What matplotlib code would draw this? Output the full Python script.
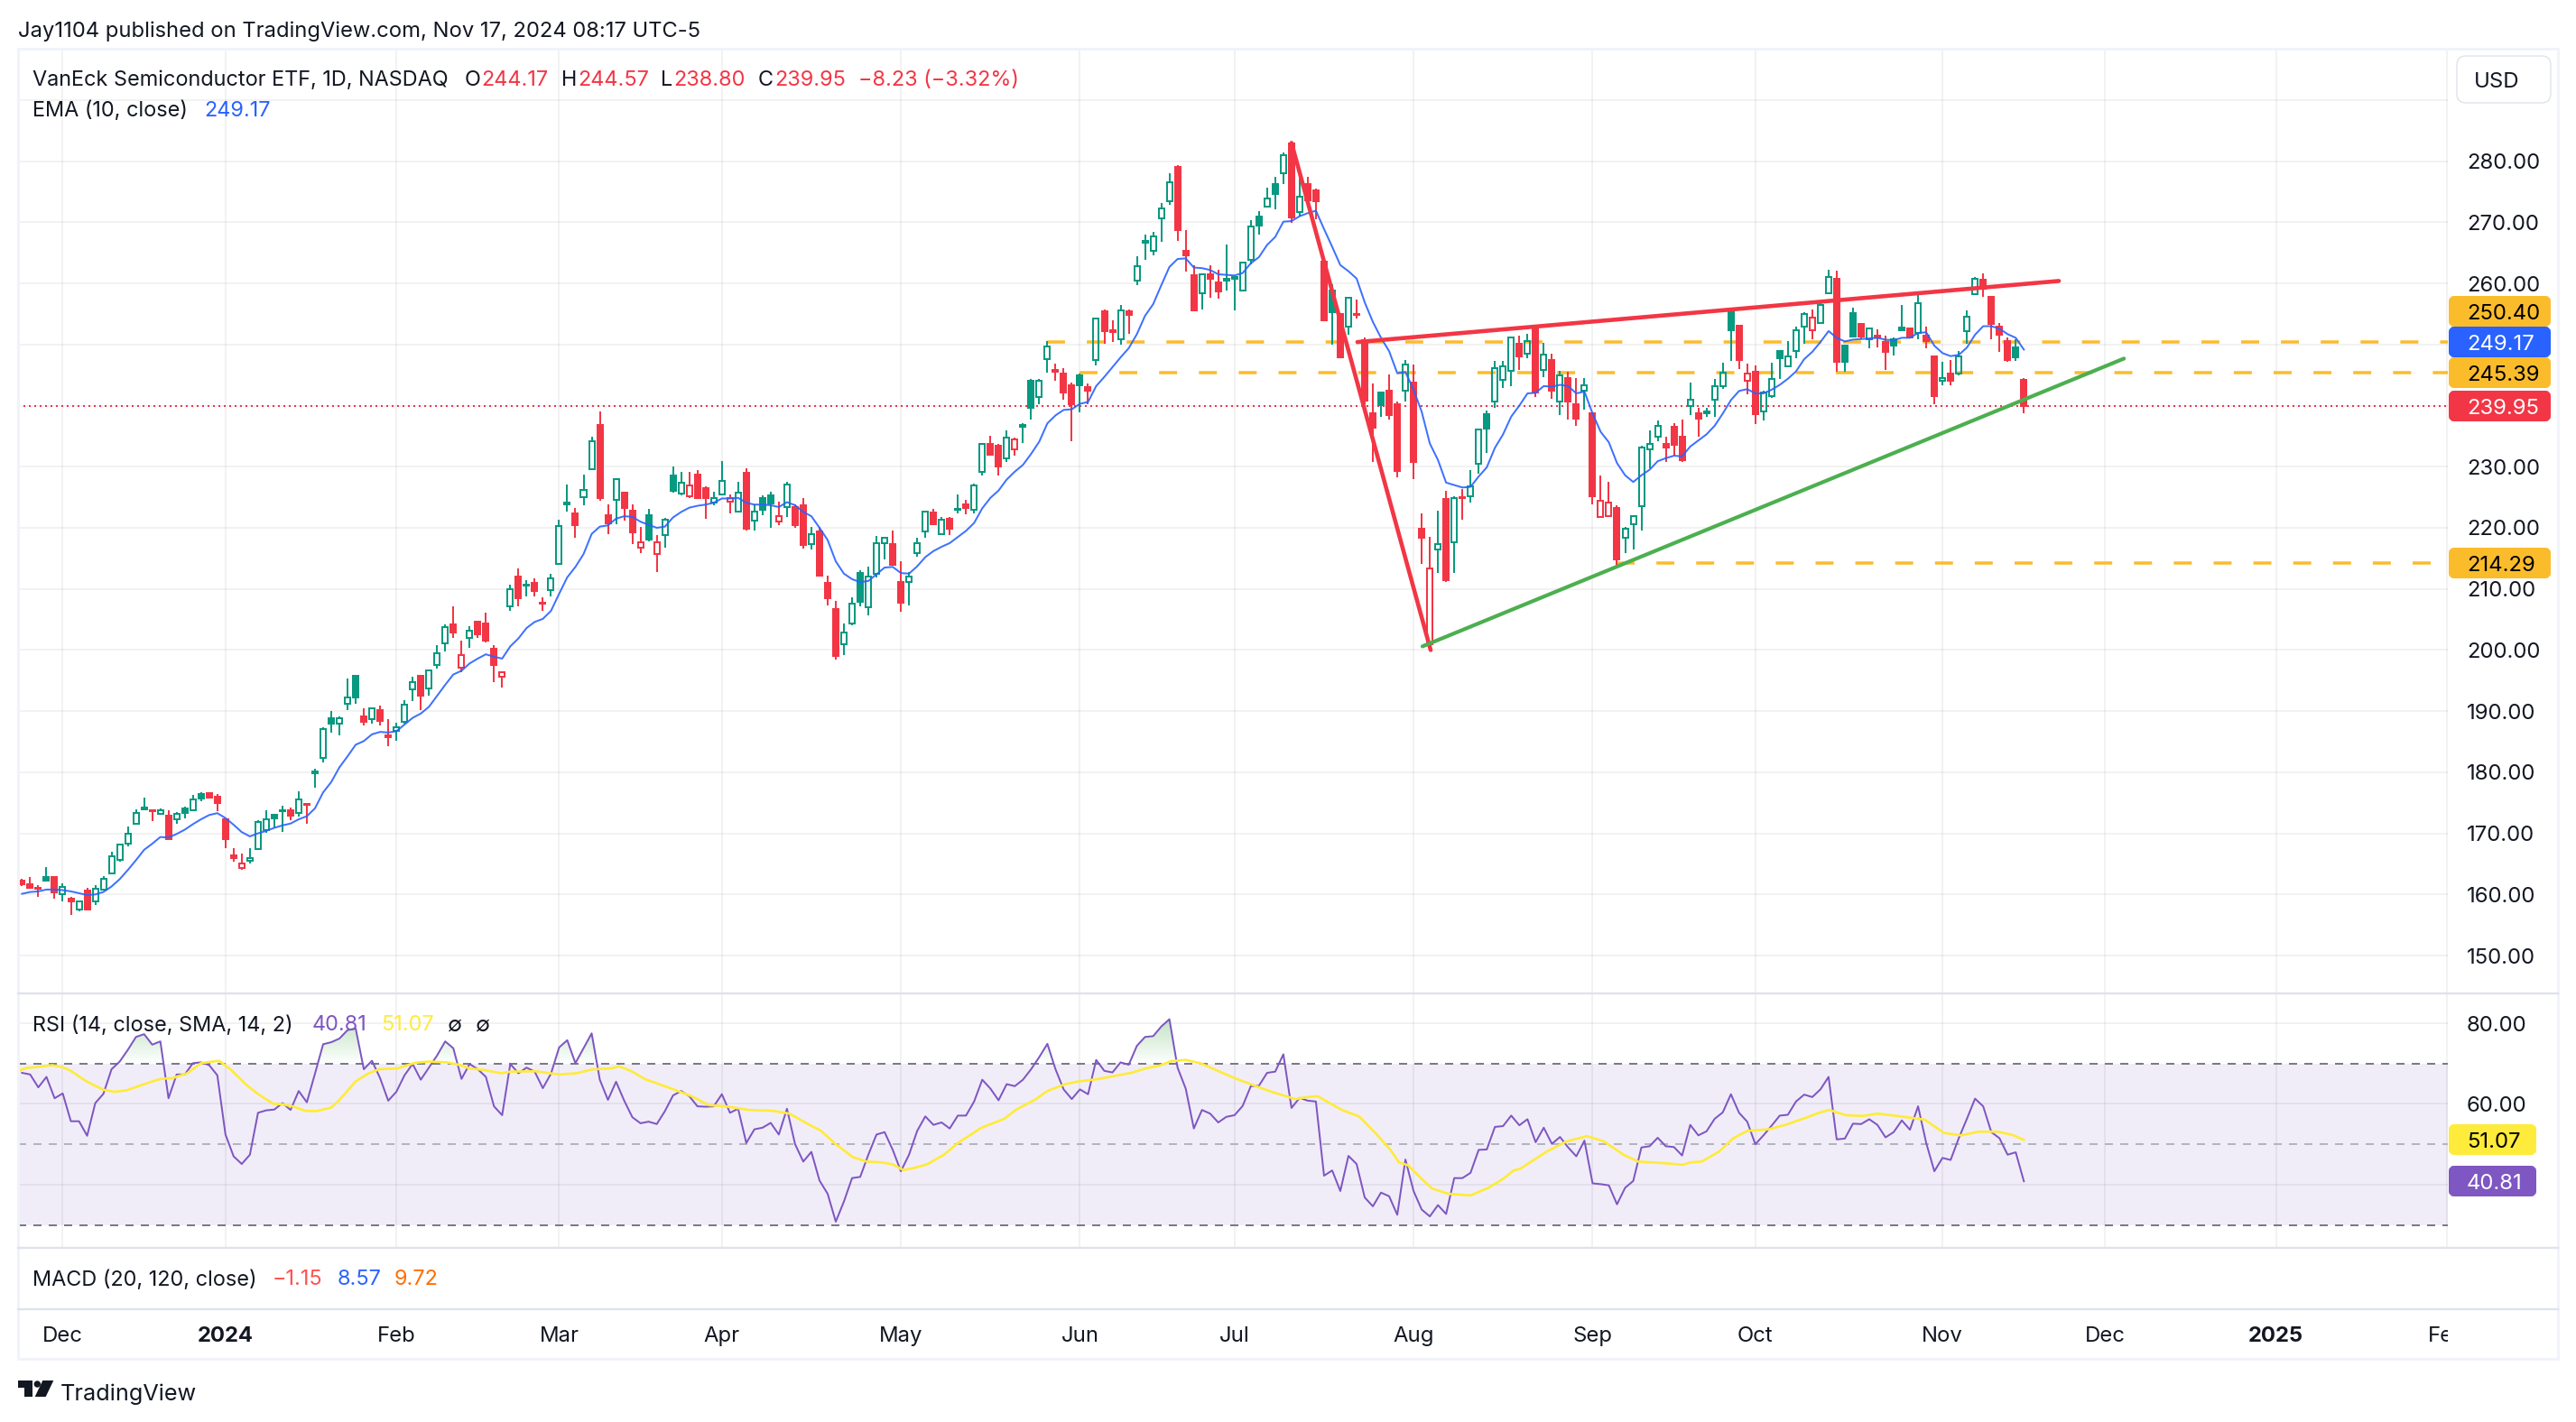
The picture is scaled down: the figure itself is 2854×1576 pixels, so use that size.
import numpy as np
import matplotlib
matplotlib.use("Agg")
import matplotlib.pyplot as plt
from matplotlib.patches import FancyBboxPatch, Polygon, Circle, Rectangle
from matplotlib.path import Path

plt.rcParams['font.family'] = ['Inter', 'DejaVu Sans']

# first candle sits five sessions before Dec 1 2023 (bar 0)
first_bar = -5

opens = [162.3,161.7,161.1,162.8,162.8,160.0,159.3,157.5,160.7,158.8,
 160.8,163.5,165.6,168.3,171.6,174.2,173.8,173.2,172.9,172.3,
 174.0,173.8,176.4,176.6,176.0,172.3,166.4,164.3,165.5,167.4,
 170.6,173.0,173.6,173.8,173.3,174.8,179.8,182.3,188.8,188.0,
 191.2,195.8,189.1,188.7,190.1,186.0,186.8,188.2,193.6,195.8,
 193.7,197.5,201.1,204.2,197.1,202.0,204.6,204.3,200.2,195.7,
 207.1,212.0,210.5,211.0,207.7,209.8,214.1,223.9,222.4,225.0,
 229.6,236.8,222.1,224.6,225.8,222.8,216.8,222.1,215.7,218.8,
 228.6,225.6,225.1,228.7,226.5,224.2,225.5,224.3,222.7,229.0,
 221.2,224.8,225.3,221.0,223.4,223.4,223.7,217.3,219.4,211.0,
 206.7,201.0,204.4,212.6,207.0,212.4,217.5,217.3,211.1,211.2,
 215.9,219.4,222.5,218.9,221.5,222.9,223.9,222.9,229.1,233.7,
 233.5,231.3,232.8,236.5,244.0,241.4,247.6,245.9,245.3,243.3,
 245.0,243.1,247.4,255.4,252.3,250.9,255.4,260.4,267.0,265.3,
 270.6,273.4,279.0,265.4,261.3,258.4,261.5,260.2,260.5,260.8,
 258.9,263.9,271.0,272.6,276.2,278.0,282.9,271.7,276.2,275.2,
 263.6,258.9,255.0,252.9,255.0,250.7,238.8,242.1,242.4,240.2,
 242.4,243.8,219.9,201.0,216.5,224.7,217.6,225.0,225.2,230.5,
 238.6,240.7,244.2,245.7,250.1,248.5,252.5,245.9,247.5,240.7,
 244.5,240.3,242.4,238.7,221.7,221.9,223.2,218.4,220.6,223.6,
 232.8,234.9,233.7,236.5,234.9,239.95,238.7,238.8,240.9,243.2,
 255.4,253.1,244.0,245.5,239.0,241.5,249.0,246.4,249.0,252.9,
 252.4,253.5,258.4,260.8,249.8,255.1,253.3,250.9,251.5,250.4,
 250.8,252.8,252.6,251.9,251.5,248.1,244.0,245.2,245.2,252.2,
 258.2,260.6,257.8,253.0,250.5,249.5,244.17]

highs = [162.5,162.8,161.5,164.4,162.8,161.8,159.6,159.0,161.1,161.5,
 163.0,167.0,168.1,171.1,173.9,175.9,173.9,174.0,173.8,173.5,
 174.3,176.3,176.7,176.7,176.4,172.3,167.6,166.7,167.6,172.1,
 173.8,173.2,174.5,174.2,176.9,175.0,180.6,187.3,190.0,189.1,
 195.4,195.9,190.5,190.4,190.9,188.7,188.1,191.8,195.7,195.9,
 196.8,200.8,204.2,207.2,201.5,203.9,204.8,206.1,200.8,196.5,
 210.7,213.4,211.5,211.7,208.7,212.5,221.3,227.1,223.2,228.7,
 234.9,239.0,223.8,227.9,225.8,223.9,220.2,223.1,218.8,221.6,
 230.0,229.1,229.1,229.4,226.8,225.9,230.9,225.4,227.5,229.7,
 223.9,225.3,225.9,224.3,227.5,223.8,224.9,220.2,220.1,212.2,
 208.0,204.3,208.6,213.1,213.6,218.7,218.5,219.6,214.5,212.7,
 218.3,222.6,223.1,221.7,221.7,225.5,224.6,227.2,233.8,235.0,
 233.7,235.9,234.8,237.1,244.4,244.3,250.6,246.8,246.1,243.8,
 245.3,243.6,254.3,255.8,253.9,256.5,255.8,264.4,268.0,268.4,
 273.1,278.1,279.4,268.8,262.9,261.7,262.9,262.3,266.3,261.0,
 263.4,270.3,271.9,275.6,277.4,281.5,282.9,278.6,277.4,275.5,
 263.6,259.8,255.0,257.8,257.3,251.2,243.6,242.3,245.1,240.7,
 247.5,246.7,222.3,218.5,222.8,226.0,225.2,226.4,229.4,236.2,
 239.2,247.3,247.3,251.3,251.5,251.7,252.7,250.3,248.5,245.7,
 245.6,244.5,244.5,238.7,228.6,227.6,223.7,220.2,222.1,233.5,
 235.9,237.6,234.9,237.1,237.7,243.8,239.6,239.7,244.4,247.0,
 255.9,253.1,246.8,246.6,242.4,247.0,249.0,250.5,253.0,255.3,
 255.7,257.1,262.2,262.1,249.8,256.0,253.5,252.8,252.5,251.5,
 251.1,256.4,252.7,258.2,252.9,248.1,247.2,247.4,248.9,255.6,
 261.0,261.7,257.9,253.5,251.1,250.8,244.57]

lows = [161.4,160.9,159.6,162.2,159.3,158.9,156.7,157.2,157.5,158.3,
 160.6,163.4,165.4,167.8,171.5,173.9,172.0,173.0,169.0,171.6,
 172.5,173.7,175.3,175.7,173.7,167.6,165.4,164.1,165.1,167.4,
 170.1,171.0,170.3,172.2,172.8,171.6,177.5,181.6,186.5,186.1,
 190.1,191.2,187.7,187.9,187.7,184.2,185.1,188.0,191.6,190.2,
 192.5,196.9,199.8,202.0,196.3,200.4,202.0,201.3,194.7,193.8,
 206.4,207.1,208.8,208.8,206.4,208.8,214.0,222.7,218.3,223.7,
 229.5,224.4,219.0,220.6,221.2,217.4,215.9,217.8,212.8,216.8,
 225.8,225.3,224.9,224.8,221.5,223.7,225.4,222.4,222.6,219.6,
 219.6,222.1,220.0,220.5,221.7,220.0,216.6,216.5,212.1,207.3,
 198.5,199.2,204.0,207.1,205.7,211.9,214.8,214.0,206.2,207.3,
 215.2,218.3,220.6,218.8,218.8,222.4,222.2,222.3,228.5,232.0,
 228.6,230.8,231.8,233.9,237.7,240.3,245.4,244.1,241.0,234.2,
 238.9,240.2,246.6,250.1,250.4,250.0,251.7,259.7,263.8,264.6,
 266.8,272.8,266.9,262.0,255.6,255.7,257.6,257.5,258.8,255.6,
 258.7,263.1,268.0,272.5,272.1,276.3,269.9,270.9,273.6,270.5,
 253.9,250.0,247.8,251.6,254.3,240.3,230.8,238.2,237.7,228.2,
 240.6,227.9,214.1,200.8,212.6,211.1,212.6,221.4,224.1,228.9,
 232.2,239.6,242.9,243.2,245.9,247.8,241.4,244.7,241.1,238.5,
 237.7,236.7,239.4,223.9,221.6,221.7,213.5,215.8,216.5,219.5,
 229.8,234.2,230.8,231.8,230.8,238.4,234.9,238.2,238.2,242.8,
 247.3,246.0,241.9,237.0,237.6,241.3,244.3,246.3,247.8,250.1,
 250.9,253.4,258.3,245.5,245.5,251.3,250.9,249.4,249.5,245.8,
 248.2,252.2,251.0,250.9,249.4,240.3,243.4,243.4,245.0,250.1,
 258.1,257.8,250.9,248.8,247.2,247.3,238.8]

closes = [161.7,161.1,160.9,162.2,160.4,161.2,158.8,158.8,157.5,161.0,
 162.5,166.3,168.1,170.0,173.3,173.9,173.6,173.8,169.0,173.2,
 173.3,175.6,175.7,175.8,174.9,169.0,165.9,165.0,166.0,171.9,
 172.3,172.5,173.8,172.9,175.6,174.6,180.1,187.1,188.0,188.9,
 192.3,192.3,188.2,190.4,188.4,185.8,187.4,191.1,194.8,192.6,
 196.6,199.4,203.8,202.9,199.2,203.2,202.5,201.6,197.6,196.4,
 209.9,208.5,210.7,209.6,207.6,211.8,220.3,224.1,220.5,226.2,
 234.1,224.8,220.7,227.9,223.3,219.3,217.7,218.1,217.7,221.3,
 226.0,227.4,227.0,224.8,224.8,224.9,227.7,224.8,225.8,219.8,
 222.6,222.9,224.0,221.9,227.1,220.5,217.2,219.0,212.2,208.5,
 199.1,202.9,207.6,207.9,212.0,217.5,218.3,214.0,207.8,212.0,
 217.5,222.6,220.6,221.3,219.9,223.1,223.2,227.0,233.8,232.0,
 230.1,234.8,234.5,236.8,239.7,244.1,249.7,245.5,242.1,240.3,
 243.4,242.5,254.3,252.2,252.1,255.6,254.9,262.8,266.6,267.7,
 272.3,276.6,268.7,264.6,255.6,261.5,260.8,258.7,260.7,261.0,
 263.4,269.3,269.5,273.9,274.7,281.0,270.8,274.2,273.6,273.5,
 254.0,255.3,247.9,257.6,254.8,240.8,236.4,240.1,238.4,229.3,
 246.7,230.8,218.3,213.3,217.3,211.4,224.8,224.8,226.8,236.1,
 236.3,246.2,246.5,251.2,248.0,250.5,242.2,248.3,242.4,244.9,
 240.7,237.8,243.3,225.1,224.5,224.2,214.9,219.8,221.9,233.2,
 233.8,236.7,233.2,233.6,231.0,240.9,237.8,239.0,243.2,245.4,
 252.4,247.5,245.2,238.6,242.1,244.4,247.7,248.0,252.4,255.0,
 254.4,256.5,261.1,247.1,247.2,251.3,251.3,252.6,251.1,248.8,
 249.9,252.4,251.1,256.8,250.5,241.5,244.5,244.1,248.1,254.6,
 260.8,259.1,253.4,251.6,247.5,247.9,239.95]

# g / r per candle, colour does not always follow open vs close on hollow candles
candle_colors = ("rrrgrgrgrg" "ggggggrgrg" "gggrrrrrgg" "gggrgrgggg" "ggrgrrgggr"
                 "gggrrgrrrr" "grgrrgggrg" "grrgrrrgrg" "ggrrrggrgr" "gggrgrrgrr"
                 "rggggggrrg" "ggrgrgrggr" "rgrggggrrr" "grgrrgrggg" "ggrrrgrrgg"
                 "ggggggrgrr" "rgrgrrrgrr" "grrrgrgrgg" "ggggrgrgrg" "rrgrrrrggg"
                 "ggrrrgrggg" "grrrgggggg" "rggrggrgrr" "ggrgrrgrgg" "grrrrgr")

ema = [160.1,160.4,160.5,160.8,160.8,160.7,160.5,160.2,159.9,160.0,
 160.4,161.3,162.5,164.0,165.6,167.3,168.3,169.4,169.3,169.9,
 170.6,171.5,172.3,173.0,173.3,172.5,171.4,170.2,169.5,170.0,
 170.4,170.9,171.3,171.6,172.3,172.8,174.1,176.7,178.4,180.8,
 182.6,184.5,185.1,186.2,186.6,186.5,186.7,187.8,188.9,189.6,
 190.7,192.5,194.3,196.0,196.6,197.8,198.6,199.3,198.9,198.6,
 200.6,201.9,203.6,204.6,205.1,206.4,209.2,211.9,213.6,215.7,
 219.0,220.2,220.4,221.5,221.9,221.8,221.0,220.5,220.0,220.2,
 221.7,222.6,223.3,223.6,223.8,224.1,224.8,224.8,224.9,224.1,
 223.8,223.8,223.7,223.4,224.2,223.7,222.6,221.9,220.0,218.0,
 214.5,212.5,211.6,211.1,211.3,212.4,213.5,213.6,212.6,212.5,
 213.7,215.2,216.2,216.9,217.5,218.5,219.5,220.8,223.2,224.9,
 226.1,227.9,229.2,230.3,232.1,234.1,237.1,238.4,239.3,239.4,
 240.3,240.6,243.2,244.7,246.3,247.9,249.4,251.7,254.7,256.6,
 259.7,262.7,264.0,264.1,262.6,262.5,262.2,261.5,261.4,261.3,
 261.7,263.3,264.3,266.3,267.6,270.1,270.2,271.0,271.5,271.9,
 268.9,266.0,263.0,262.0,260.8,256.9,253.7,251.1,248.9,245.3,
 245.5,242.6,239.0,233.8,231.1,227.4,227.0,226.6,226.7,228.4,
 229.9,233.1,235.3,238.2,240.0,242.0,242.1,243.2,243.1,243.4,
 243.2,242.0,242.3,238.7,235.7,234.0,230.6,228.6,227.5,228.6,
 229.5,230.9,231.4,231.8,231.7,233.3,234.3,235.3,236.7,238.7,
 240.9,242.4,242.7,242.0,242.0,242.6,243.4,244.4,245.6,247.6,
 248.8,250.4,252.2,251.1,250.5,250.8,250.9,251.0,251.1,250.8,
 250.7,251.1,251.1,251.9,252.0,249.8,248.6,248.1,248.3,249.5,
 251.6,253.0,253.0,252.6,251.7,251.1,249.17]

rsi = [67.7,67.3,64.1,66.7,61.4,62.6,55.7,55.7,52.1,60.2,
 62.5,68.6,70.5,73.4,76.6,77.3,74.7,75.5,61.4,67.3,
 67.3,70.1,70.3,69.6,67.1,52.4,47.0,45.1,47.4,57.8,
 58.4,58.6,60.2,58.5,63.2,60.4,67.5,74.8,75.3,76.2,
 78.3,78.7,68.6,70.7,66.4,60.8,63.0,67.1,69.9,66.0,
 69.0,72.0,75.5,73.8,66.2,69.9,68.6,66.7,59.4,57.2,
 69.9,67.6,69.0,68.0,63.9,67.5,74.0,75.8,70.1,73.8,
 77.5,66.0,61.0,65.5,60.8,56.7,55.2,55.6,55.0,58.2,
 62.1,63.2,61.9,59.4,59.3,59.4,62.4,57.8,58.8,50.3,
 53.7,54.1,55.3,52.4,58.8,50.0,45.7,48.1,41.0,37.7,
 30.8,35.8,41.6,41.9,47.4,52.4,53.0,48.6,43.3,47.4,
 53.3,56.9,54.8,55.4,53.9,57.1,57.1,60.6,66.0,63.8,
 60.9,64.9,64.4,66.0,68.6,71.6,74.9,68.6,63.6,61.2,
 63.6,62.4,70.9,68.2,67.8,70.3,69.7,74.4,76.6,76.8,
 79.2,81.0,69.0,63.8,53.9,58.5,57.6,55.4,56.8,57.2,
 59.5,64.4,64.5,67.7,68.0,72.3,59.0,61.5,60.8,60.6,
 42.2,43.5,38.4,47.1,45.1,36.8,34.6,38.0,37.1,32.5,
 46.2,38.4,33.8,32.1,34.9,32.7,41.6,41.6,42.9,48.6,
 48.7,54.3,54.5,57.1,54.7,56.2,50.5,54.1,50.1,51.8,
 49.2,47.0,50.9,40.3,40.1,39.8,35.1,39.2,40.9,49.2,
 49.5,51.6,49.5,49.3,47.2,54.8,52.2,53.2,56.3,57.9,
 62.4,57.8,55.6,50.0,52.2,54.6,57.1,57.3,60.6,62.3,
 61.7,63.6,66.7,51.2,51.4,55.1,55.0,56.2,54.8,51.7,
 53.0,55.9,53.6,59.4,50.3,43.3,46.6,46.1,51.5,56.3,
 61.3,59.4,53.0,51.5,47.4,48.0,40.81]

# the yellow average is smooth, so it is read at its visible bends only
rsi_ma_bars = [-5.5,-4.5,-3,-1.3,0,1,2.9,5,6.4,7.9,10,12,13.5,15.3,17,19.2,20.6,22.7,24.1,25.9,
 27,28.4,29.8,31.2,33,34.1,36,37.6,38.9,41.1,43.3,45,47.2,48.9,50,51.8,53.9,55,58.1,61,
 63.1,65.2,67.3,68.4,69.8,71.6,74.4,77.3,79.4,81.5,84.3,87.2,89.3,91.4,93.2,95,97.1,98.8,100.6,102,
 103.3,104.4,106.2,108.3,110,112.9,115.7,117.1,119.6,121,123.2,124.9,127,131.3,133.1,134.8,136.2,138,139.8,142.3,
 144,146.5,148.7,151.5,152.9,154.2,157.2,159.3,161.4,163.2,164.2,165.3,167,168.3,170.3,173,175.2,177,178.3,179.1,
 182.3,184.8,187.3,189.4,191.8,193.6,196.8,199.1,200,201.4,203.5,205.3,207,209.6,211.7,214.4,215.8,217.1,219.1,221.2,
 223,225.5,228.8,231.2,233.3,235.4,237.8,239.6,241]
rsi_ma_vals = [68.2,68.9,69.2,69.6,69.1,68.2,65.6,63.5,63.0,63.4,64.9,66.2,66.4,67.6,70.1,70.7,68.6,64.5,62.3,60.0,
 59.9,59.3,58.3,58.2,59.1,61.2,65.6,67.6,68.6,68.8,70.2,70.5,70.3,69.6,68.8,68.4,67.6,68.0,68.1,67.3,
 67.6,68.6,68.8,69.3,68.2,66.1,64.1,61.9,59.7,59.4,58.5,58.3,57.6,55.2,53.3,50.0,46.8,45.7,45.5,45.0,
 43.6,44.0,45.0,47.4,50.3,54.1,56.3,58.5,61.2,63.2,64.9,65.6,66.1,67.7,68.8,69.5,70.6,70.9,70.1,67.9,
 66.4,64.5,62.9,61.2,61.7,61.9,58.5,56.9,52.6,48.5,45.5,44.8,41.4,39.0,37.7,37.3,39.2,41.4,43.5,43.9,
 48.1,50.7,52.0,50.7,47.4,45.7,45.3,44.9,45.5,45.7,48.1,51.5,53.3,53.7,54.8,56.7,57.8,58.5,57.2,57.0,
 57.6,57.0,56.1,52.8,52.2,53.1,53.1,52.3,51.07]

month_bars = [0,20,41,61,81,103,125,144,166,188,208,231,251,272,293]
month_labels = ['Dec','2024','Feb','Mar','Apr','May','Jun','Jul','Aug','Sep','Oct','Nov','Dec','2025','Feb']

price_ticks = [150,160,170,180,190,200,210,220,230,240,250,260,270,280,290]
price_tick_labels = ['150.00','160.00','170.00','180.00','190.00','200.00','210.00','220.00','230.00',
                     '','','260.00','270.00','280.00','']
rsi_ticks = [40,60,80]
rsi_tick_labels = ['','60.00','80.00']

# drawings on the chart: (start bar, end bar), (start price, end price)
drop_line = ([151,168.1],[283.0,200.0])
upper_line = ([159.1,245.3],[250.4,260.4])
lower_line = ([167.1,253.3],[200.6,247.7])
levels = [250.40,245.39,214.29]
level_start_bars = [121,125,191]
last_close = 239.95

RED = '#F23645'
GREEN = '#089981'
BLUE = '#2962FF'
ORANGE = '#FBBC2C'
PURPLE = '#7E57C2'
YELLOW = '#FFEB3B'
INK = '#131722'

W, H = 2854, 1576
PX = 72/100  # points for one pixel at dpi 100
FS = 17.2
FS_LEGEND = 16.9

bars = np.arange(first_bar, first_bar+len(closes))
opens, highs, lows, closes = map(np.array, (opens, highs, lows, closes))
is_green = np.array([c == 'g' for c in candle_colors])


def pane(top, bottom, left=20, right=2712):
    return fig.add_axes([left/W, 1-bottom/H, (right-left)/W, (bottom-top)/H])


fig = plt.figure(figsize=(W/100, H/100), dpi=100, facecolor='white')

x_range = (-5.49, 293.1)
ax = pane(54, 1101)
ax_rsi = pane(1101, 1383)
ax_macd = pane(1383, 1451)
ax_time = pane(1451, 1506)

for a in (ax, ax_rsi, ax_macd, ax_time):
    a.set_xlim(x_range)
    for s in a.spines.values():
        s.set_visible(False)
ax_macd.set_xticks([]); ax_macd.set_yticks([])
ax_time.set_xticks([]); ax_time.set_yticks([])

for a, ticks, labels in ((ax, price_ticks, price_tick_labels), (ax_rsi, rsi_ticks, rsi_tick_labels)):
    a.set_axisbelow(True)
    a.set_xticks(month_bars)
    a.set_xticklabels([])
    a.yaxis.tick_right()
    a.set_yticks(ticks)
    a.set_yticklabels(labels)
    a.tick_params(length=0)
    a.tick_params(axis='y', pad=21*PX, labelsize=FS, labelcolor=INK)
    a.grid(True, color='black', alpha=0.05, lw=2*PX)

# main pane
ax.set_ylim(143.8, 298.41)

for lvl, start in zip(levels, level_start_bars):
    ax.plot([start, x_range[1]], [lvl, lvl], color=ORANGE, lw=3.5*PX,
            ls=(0, (5.7, 6.9)), dash_capstyle='butt', zorder=1.5)
ax.axhline(last_close, color=RED, lw=2*PX, ls=(0, (1, 2)), zorder=1.6)

body_top = np.maximum(opens, closes)
body_bot = np.minimum(opens, closes)
hollow = closes > opens
for mask, col in ((is_green, GREEN), (~is_green, RED)):
    ax.vlines(bars[mask], body_top[mask], highs[mask], color=col, lw=2*PX, zorder=2)
    ax.vlines(bars[mask], lows[mask], body_bot[mask], color=col, lw=2*PX, zorder=2)
    m = mask & hollow
    ax.bar(bars[m], (body_top-body_bot)[m], bottom=body_bot[m], width=0.666,
           facecolor='none', edgecolor=col, lw=2*PX, zorder=2.1)
    m = mask & ~hollow
    ax.bar(bars[m], (body_top-body_bot)[m], bottom=body_bot[m], width=0.666,
           facecolor=col, edgecolor=col, lw=2*PX, zorder=2.1)

ax.plot(bars, ema, color=BLUE, lw=2*PX, alpha=0.9, zorder=3)
ax.plot(*drop_line, color=RED, lw=4.6*PX, solid_capstyle='round', zorder=4)
ax.plot(*upper_line, color=RED, lw=4.6*PX, solid_capstyle='round', zorder=4)
ax.plot(*lower_line, color='#4CAF50', lw=4.2*PX, solid_capstyle='round', zorder=4)

# rsi pane
ax_rsi.set_ylim(24.3, 87.4)
ax_rsi.axhspan(30, 70, color=PURPLE, alpha=0.1, lw=0, zorder=0.2)
ax_rsi.axhline(70, color='#787B86', lw=2*PX, ls=(0, (4.5, 4)), zorder=1)
ax_rsi.axhline(30, color='#787B86', lw=2*PX, ls=(0, (4.5, 4)), zorder=1)
ax_rsi.axhline(50, color='#B2B5BE', lw=2*PX, ls=(0, (4.5, 4)), zorder=1)

rsi_arr = np.array(rsi)
over = ax_rsi.fill_between(bars, 70, rsi_arr, where=rsi_arr >= 70, interpolate=True,
                           facecolor='none', edgecolor='none')
grad = np.zeros((256, 1, 4))
grad[..., :3] = matplotlib.colors.to_rgb('#4CAF50')
grad[..., 3] = np.linspace(0.35, 0, 256)[:, None]
img = ax_rsi.imshow(grad, extent=(x_range[0], x_range[1], 70, 81), aspect='auto', zorder=1.1, origin='upper')
clip = Path.make_compound_path(*over.get_paths())
img.set_clip_path(clip, transform=ax_rsi.transData)
ax_rsi.set_xlim(x_range)
ax_rsi.set_ylim(24.3, 87.4)

ax_rsi.plot(bars, rsi, color=PURPLE, lw=2*PX, zorder=2)
ax_rsi.plot(rsi_ma_bars, rsi_ma_vals, color=YELLOW, lw=2.7*PX, zorder=2.1)

# time axis, cut at the pane edge like the last Feb
for b, lab in zip(month_bars, month_labels):
    ax_time.text(b, 0.45, lab, transform=ax_time.get_xaxis_transform(), ha='center', va='center',
                 fontsize=FS, color=INK, clip_on=True,
                 fontweight='bold' if lab.isdigit() else 'normal')

# overlay in pixels for the frame, badges and legends
ov = fig.add_axes([0, 0, 1, 1], zorder=5)
ov.set_xlim(0, W)
ov.set_ylim(H, 0)
ov.axis('off')
ov.patch.set_alpha(0)

ov.add_patch(Rectangle((20, 54), 2814, 1452, fill=False, ec='#F0F3FA', lw=3*PX))
for y in (1101, 1383, 1451):
    ov.plot([20, 2834], [y, y], color='#E0E3EB', lw=2.4*PX)


def badge(top, right, text, bg, fg, left=2716, text_x=2733):
    ov.add_patch(FancyBboxPatch((left, top+3), right-left-3, 28, boxstyle='round,pad=0,rounding_size=3',
                                mutation_aspect=1, fc=bg, ec=bg, lw=6*PX, zorder=3))
    ov.text(text_x, top+17, text, color=fg, fontsize=FS, ha='left', va='center_baseline', zorder=4)


badge(328, 2826, '250.40', ORANGE, 'black')
badge(362, 2826, '249.17', BLUE, 'white')
badge(396, 2826, '245.39', ORANGE, 'black')
badge(433, 2826, '239.95', RED, 'white')
badge(607, 2826, '214.29', ORANGE, 'black')
badge(1246, 2810, '51.07', YELLOW, 'black')
badge(1292, 2810, '40.81', PURPLE, 'white')

ov.add_patch(FancyBboxPatch((2722, 62), 104, 52, boxstyle='round,pad=0,rounding_size=10',
                            fc='white', ec='#E0E3EB', lw=1.4*PX))
ov.text(2741, 88, 'USD', fontsize=FS, color=INK, va='center_baseline')

ov.text(20, 32, 'Jay1104 published on TradingView.com, Nov 17, 2024 08:17 UTC-5',
        fontsize=FS-0.1, color=INK, va='center_baseline')


def legend(y, parts):
    for x, txt, col in parts:
        ov.text(x, y, txt, fontsize=FS_LEGEND, color=col, va='center_baseline')


legend(86, [(36, 'VanEck Semiconductor ETF, 1D, NASDAQ', INK), (515, 'O', INK), (533, '244.17', RED),
            (622, 'H', INK), (640, '244.57', RED), (732, 'L', INK), (746, '238.80', RED),
            (840, 'C', INK), (858, '239.95', RED), (951, '−8.23 (−3.32%)', RED)])
legend(120, [(36, 'EMA (10, close)', INK), (226, '249.17', BLUE)])
legend(1134, [(36, 'RSI (14, close, SMA, 14, 2)', INK), (346, '40.81', PURPLE), (422, '51.07', YELLOW),
              (496, '∅', INK), (527, '∅', INK)])
legend(1416, [(36, 'MACD (20, 120, close)', INK), (302, '−1.15', '#FF5252'), (374, '8.57', BLUE), (437, '9.72', '#FF6D00')])

# TradingView mark and name
ov.add_patch(Polygon([(20, 1530), (36, 1530), (36, 1548), (27.3, 1548), (27.3, 1538), (20, 1538)], fc=INK, ec='none'))
ov.add_patch(Circle((41.3, 1534), 3.7, fc=INK, ec='none'))
ov.add_patch(Polygon([(47.3, 1530), (59.3, 1530), (50.7, 1548), (38.7, 1548)], fc=INK, ec='none'))
ov.text(67, 1543, 'TradingView', fontsize=FS+1, color=INK, va='center_baseline')

fig.savefig('out.png', dpi=100)
